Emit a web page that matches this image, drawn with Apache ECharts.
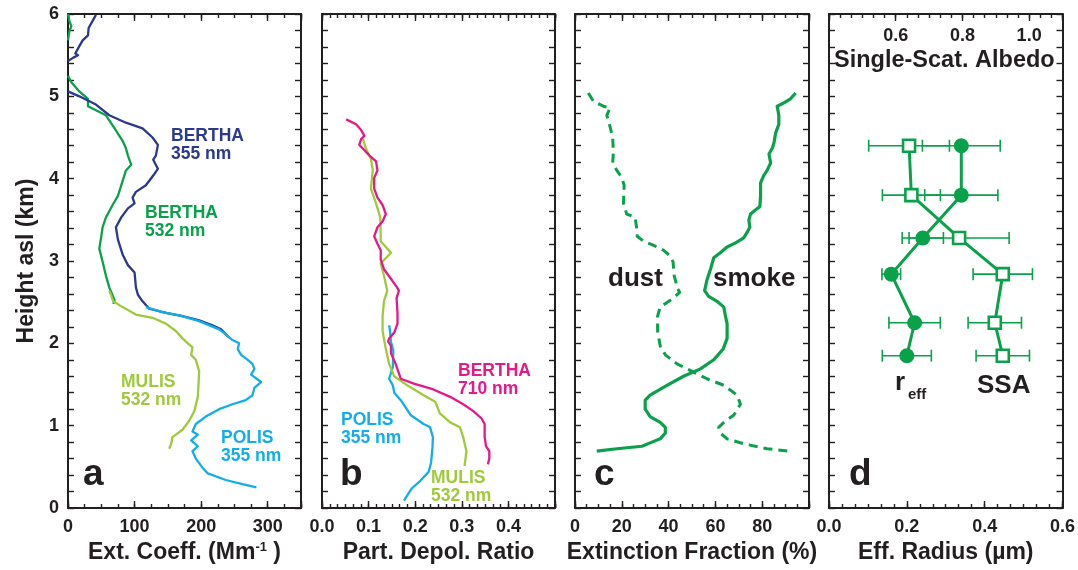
<!DOCTYPE html>
<html><head><meta charset="utf-8">
<script src="https://cdn.jsdelivr.net/npm/echarts@6/dist/echarts.min.js"></script>
<style>html,body{margin:0;padding:0;background:#fff}#c{width:1078px;height:570px}</style>
</head><body><div id="c"></div>
<script>
// ---------------- data ----------------
// panel a: extinction coefficient (Mm-1) vs height (km)
const berthaExt355 = [[42,5.99],[31,5.83],[30,5.74],[22,5.68],[17,5.61],[11,5.52],[15,5.50],[8,5.47],[0,5.43],null,
  [0,5.06],[17,5.0],[42,4.9],[62,4.77],[87,4.68],[112,4.61],[127,4.5],[135,4.41],[132,4.28],[128,4.23],[135,4.12],[130,4.06],
  [117,3.92],[102,3.84],[97,3.77],[100,3.70],[90,3.64],[80,3.53],[72,3.41],[75,3.26],[82,3.08],[90,2.95],[100,2.86],
  [102,2.68],[105,2.59],[112,2.51],[122,2.42],[147,2.37],[172,2.33],[197,2.28],[217,2.22],[230,2.17],[242,2.07]];
const berthaExt532 = [[0,6.0],[2,5.92],[5,5.85],[2,5.79],[0,5.68],null,
  [0,5.25],[5,5.17],[17,5.06],[30,4.97],[30,4.88],[42,4.83],[57,4.77],[70,4.61],[82,4.46],[87,4.37],[90,4.28],[95,4.17],
  [87,4.10],[82,3.97],[75,3.79],[67,3.68],[57,3.53],[52,3.41],[50,3.30],[47,3.15],[52,2.99],[57,2.82],[62,2.68],[65,2.62],[70,2.52],[68,2.48]];
const mulisExt532 = [[62,2.64],[65,2.58],[68,2.51],[82,2.44],[102,2.35],[127,2.31],[147,2.24],[162,2.15],[172,2.06],[180,2.0],
  [187,1.95],[185,1.86],[192,1.80],[197,1.66],[196,1.49],[195,1.35],[190,1.18],[182,1.06],[172,0.95],[157,0.86],[155,0.78],[152,0.72]];
const polisExt355 = [[117,2.44],[142,2.38],[167,2.34],[197,2.27],[227,2.17],[237,2.11],[247,2.04],[257,2.0],[255,1.93],[260,1.86],
  [270,1.80],[277,1.75],[280,1.69],[275,1.62],[290,1.53],[280,1.46],[277,1.37],[267,1.31],[247,1.26],[227,1.20],[207,1.11],
  [192,1.02],[187,0.93],[195,0.89],[185,0.82],[195,0.75],[187,0.69],[192,0.60],[202,0.49],[210,0.42],[237,0.34],[262,0.29],[283,0.25]];
// panel b: particle depolarization ratio vs height
const berthaDep710 = [[0.052,4.72],[0.073,4.66],[0.084,4.59],[0.091,4.52],[0.084,4.48],[0.080,4.41],[0.087,4.37],[0.102,4.28],
  [0.116,4.21],[0.119,4.10],[0.112,4.01],[0.112,3.88],[0.119,3.77],[0.130,3.68],[0.137,3.57],[0.130,3.48],[0.119,3.41],
  [0.112,3.30],[0.119,3.21],[0.126,3.13],[0.126,3.02],[0.133,2.90],[0.147,2.79],[0.161,2.68],[0.165,2.64],[0.160,2.55],
  [0.162,2.37],[0.162,2.24],[0.155,2.13],[0.144,2.06],[0.142,2.02],[0.148,1.97],[0.148,1.88],[0.158,1.75],[0.169,1.57],
  [0.197,1.51],[0.239,1.44],[0.275,1.35],[0.303,1.26],[0.324,1.18],[0.342,1.09],[0.349,1.02],[0.349,0.86],[0.352,0.75],
  [0.359,0.69],[0.359,0.60],[0.356,0.53]];
const mulisDep532 = [[0.088,4.48],[0.094,4.37],[0.105,4.24],[0.109,4.10],[0.105,3.88],[0.116,3.70],[0.125,3.53],[0.126,3.35],
  [0.126,3.24],[0.148,3.10],[0.126,2.97],[0.133,2.82],[0.140,2.64],[0.133,2.51],[0.130,2.33],[0.130,2.15],[0.137,1.93],
  [0.144,1.75],[0.155,1.60],[0.183,1.49],[0.218,1.37],[0.243,1.29],[0.253,1.15],[0.275,1.04],[0.296,0.98],[0.303,0.86],
  [0.310,0.69],[0.306,0.51]];
const polisDep355 = [[0.144,2.22],[0.146,2.15],[0.148,2.02],[0.153,1.91],[0.152,1.71],[0.144,1.57],[0.152,1.49],[0.155,1.40],
  [0.169,1.31],[0.190,1.13],[0.218,1.02],[0.232,0.98],[0.238,0.86],[0.237,0.73],[0.234,0.55],[0.229,0.44],[0.211,0.33],
  [0.193,0.24],[0.186,0.18],[0.176,0.09]];
// panel c: extinction fraction (%) vs height
const smokeFraction = [[94.3,5.04],[92.1,4.97],[89.3,4.92],[86.4,4.88],[87.1,4.77],[87.1,4.66],[85.7,4.55],[85,4.43],[84.3,4.37],
  [82.9,4.30],[83.6,4.19],[82.1,4.10],[80.7,4.04],[79.3,3.95],[79.3,3.79],[79,3.66],[77.1,3.62],[75,3.57],[74.3,3.50],[74.7,3.41],
  [73.6,3.35],[72.1,3.28],[68.6,3.22],[65,3.17],[62.1,3.10],[59.3,3.04],[57.9,2.90],[56.4,2.77],[55.4,2.64],[57.1,2.57],
  [60.7,2.51],[63.6,2.44],[64.3,2.33],[65,2.24],[65,2.06],[63.3,1.93],[59.3,1.80],[53.6,1.69],[46.4,1.60],[39.3,1.49],
  [32.1,1.37],[30,1.31],[30,1.20],[32.1,1.11],[36.4,1.04],[38.6,0.98],[38.6,0.91],[36.4,0.84],[32.9,0.80],[28.6,0.75],
  [17.9,0.72],[9.3,0.69]];
const dustFraction = [[5.7,5.04],[7.9,4.94],[12.1,4.88],[15,4.86],[13.6,4.77],[15,4.63],[16.1,4.50],[16.4,4.32],[16.1,4.19],
  [17.9,4.10],[20,4.01],[21,3.92],[20.7,3.70],[22.1,3.57],[25.7,3.53],[26.4,3.39],[26.6,3.30],[29.3,3.24],[33.6,3.19],
  [37.9,3.13],[40.7,3.06],[41.9,2.99],[42.4,2.82],[43.9,2.66],[44.7,2.62],[42.1,2.55],[36.4,2.44],[35.3,2.33],[35.3,2.15],
  [36.4,1.97],[38.6,1.86],[43.6,1.75],[50,1.66],[56.4,1.57],[63.6,1.49],[69.3,1.37],[70.7,1.26],[67.9,1.13],[63.6,1.04],
  [61.4,0.98],[62.1,0.91],[65,0.84],[72.1,0.78],[82.1,0.72],[91.4,0.69]];
// panel d: effective radius (um) and single-scattering albedo vs height
const retrievalHeights = [4.40, 3.80, 3.28, 2.84, 2.25, 1.85];
const effRadius    = [0.340, 0.340, 0.241, 0.160, 0.220, 0.200];
const effRadiusErr = [0.100, 0.094, 0.053, 0.024, 0.066, 0.063];
const albedo       = [0.640, 0.647, 0.790, 0.921, 0.897, 0.921];
const albedoErr    = [0.121, 0.087, 0.150, 0.089, 0.080, 0.080];
// tick labels
const heightTickLabels = [0, 1, 2, 3, 4, 5, 6];
const extTickLabels = [0, 100, 200, 300];
const depolTickLabels = [0.0, 0.1, 0.2, 0.3, 0.4];
const fractionTickLabels = [0, 20, 40, 60, 80];
const radiusTickLabels = [0.0, 0.2, 0.4, 0.6];
const albedoTickLabels = [0.6, 0.8, 1.0];

// ---------------- styling ----------------
const FONT = "'Liberation Sans', Arial, Helvetica, sans-serif";
const INK = '#231f20';
const NAVY = '#2b3990', GREEN = '#0aa14b', LIME = '#9fca3b', SKY = '#12aeea', MAGENTA = '#e8178a';
const gridBoxes = [{left: 68, width: 233}, {left: 322, width: 233}, {left: 575, width: 234}, {left: 829, width: 234}];
const TOP = 14, HEIGHT = 494;

const near = (v, list) => list.some(t => Math.abs(v - t) < 1e-6);
const tickFont = {fontFamily: FONT, fontWeight: 'bold', fontSize: 18, color: INK};
const titleFont = {fontFamily: FONT, fontWeight: 'bold', fontSize: 23, color: INK};

const xAxes = [], yAxes = [];
function addX(grid, position, min, max, major, minor, label, nameOpt) {
  const base = {type: 'value', gridIndex: grid, position, min, max, splitLine: {show: false}, silent: true};
  xAxes.push(Object.assign({}, base, {
    interval: minor, axisLine: {show: false, onZero: false},
    axisTick: {show: true, inside: true, length: 4, lineStyle: {color: INK, width: 1.4}},
    axisLabel: {show: false}
  }));
  const idx = xAxes.length;
  xAxes.push(Object.assign({}, base, {
    interval: major, axisLine: {show: true, onZero: false, lineStyle: {color: INK, width: 2}},
    axisTick: {show: true, inside: true, length: 7, lineStyle: {color: INK, width: 1.4}},
    axisLabel: label || {show: false}
  }, nameOpt || {}));
  return idx;
}
function addY(grid, position, label, nameOpt) {
  yAxes.push(Object.assign({
    type: 'value', gridIndex: grid, position, min: 0, max: 6, interval: 0.2, silent: true,
    splitLine: {show: false},
    axisLine: {show: true, onZero: false, lineStyle: {color: INK, width: 2}},
    axisTick: {show: true, inside: true, length: 6, lineStyle: {color: INK, width: 1.4}},
    axisLabel: label || {show: false}
  }, nameOpt || {}));
  return yAxes.length - 1;
}
function bottomLabel(list, fmt) {
  return Object.assign({show: true, margin: 10, formatter: v => near(v, list) ? fmt(v) : ''}, tickFont);
}
function bottomName(name, rich) {
  return {name, nameLocation: 'middle', nameGap: 33,
    nameTextStyle: Object.assign({}, titleFont, rich ? {rich} : {})};
}

const grids = gridBoxes.map(g => ({left: g.left, width: g.width, top: TOP, height: HEIGHT, containLabel: false}));

// panel a
const xa = addX(0, 'bottom', 0, 350, 100, 25, bottomLabel(extTickLabels, v => String(Math.round(v))),
  bottomName('{n|Ext. Coeff. (Mm}{s|-1}{n| )}', {
    n: {fontFamily: FONT, fontWeight: 'bold', fontSize: 23, color: INK},
    s: {fontFamily: FONT, fontWeight: 'bold', fontSize: 13, color: INK, verticalAlign: 'top', padding: [0, 0, 10, 0]}
  }));
addX(0, 'top', 0, 350, 100, 25);
const ya = addY(0, 'left', Object.assign({show: true, margin: 9,
  formatter: v => near(v, heightTickLabels) ? String(Math.round(v)) : ''}, tickFont),
  {name: 'Height asl (km)', nameLocation: 'middle', nameGap: 30, nameTextStyle: titleFont});
addY(0, 'right');
// panel b
const xb = addX(1, 'bottom', 0, 0.5, 0.1, 0.1 / 6, bottomLabel(depolTickLabels, v => v.toFixed(1)), bottomName('Part. Depol. Ratio'));
addX(1, 'top', 0, 0.5, 0.1, 0.1 / 6);
const yb = addY(1, 'left');
addY(1, 'right');
// panel c
const xc = addX(2, 'bottom', 0, 100, 20, 5, bottomLabel(fractionTickLabels, v => String(Math.round(v))), bottomName('Extinction Fraction (%)'));
addX(2, 'top', 0, 100, 20, 5);
const yc = addY(2, 'left');
addY(2, 'right');
// panel d
const xd = addX(3, 'bottom', 0, 0.6, 0.2, 0.2 / 6, bottomLabel(radiusTickLabels, v => v.toFixed(1)), bottomName('Eff. Radius (µm)'));
const xdTop = addX(3, 'top', 0.4, 1.1, 0.2, 0.1 / 3,
  Object.assign({show: true, inside: true, margin: 13, formatter: v => near(v, albedoTickLabels) ? v.toFixed(1) : ''}, tickFont));
const yd = addY(3, 'left');
addY(3, 'right');

const toData = arr => arr.map(p => p ? p : ['-', '-']);
function line(data, xi, yi, color, width, dashed) {
  return {type: 'line', xAxisIndex: xi, yAxisIndex: yi, data: toData(data), showSymbol: false, symbol: 'none',
    connectNulls: false, silent: true, z: 3,
    lineStyle: {color, width, type: dashed ? [9, 6] : 'solid', cap: 'butt', join: 'round'}};
}
function errorBars(centers, errs, xi, yi) {
  return {
    type: 'custom', xAxisIndex: xi, yAxisIndex: yi, silent: true, z: 2,
    data: retrievalHeights.map((h, i) => [centers[i], h, centers[i] - errs[i], centers[i] + errs[i]]),
    encode: {x: [0, 2, 3], y: 1},
    renderItem: (params, api) => {
      const h = api.value(1);
      const lo = api.coord([api.value(2), h]);
      const hi = api.coord([api.value(3), h]);
      const st = {stroke: GREEN, lineWidth: 1.6};
      const cap = 6;
      return {type: 'group', children: [
        {type: 'line', shape: {x1: lo[0], y1: lo[1], x2: hi[0], y2: hi[1]}, style: st},
        {type: 'line', shape: {x1: lo[0], y1: lo[1] - cap, x2: lo[0], y2: lo[1] + cap}, style: st},
        {type: 'line', shape: {x1: hi[0], y1: hi[1] - cap, x2: hi[0], y2: hi[1] + cap}, style: st}
      ]};
    }
  };
}

const series = [
  line(berthaExt532, xa, ya, GREEN, 2.3),
  line(berthaExt355, xa, ya, NAVY, 2.3),
  line(polisExt355, xa, ya, SKY, 2.3),
  line(mulisExt532, xa, ya, LIME, 2.3),
  line(polisDep355, xb, yb, SKY, 2.3),
  line(mulisDep532, xb, yb, LIME, 2.3),
  line(berthaDep710, xb, yb, MAGENTA, 2.3),
  line(dustFraction, xc, yc, GREEN, 3, true),
  line(smokeFraction, xc, yc, GREEN, 3.2),
  errorBars(effRadius, effRadiusErr, xd, yd),
  errorBars(albedo, albedoErr, xdTop, yd),
  {type: 'line', xAxisIndex: xd, yAxisIndex: yd, silent: true, z: 4,
    data: retrievalHeights.map((h, i) => [effRadius[i], h]),
    symbol: 'circle', symbolSize: 15, showSymbol: true,
    lineStyle: {color: GREEN, width: 3}, itemStyle: {color: GREEN}},
  {type: 'line', xAxisIndex: xdTop, yAxisIndex: yd, silent: true, z: 4,
    data: retrievalHeights.map((h, i) => [albedo[i], h]),
    symbol: 'rect', symbolSize: 12, showSymbol: true,
    lineStyle: {color: GREEN, width: 3}, itemStyle: {color: '#ffffff', borderColor: GREEN, borderWidth: 2.6}}
];

function txt(text, x, y, size, color, extra) {
  return {type: 'text', left: x, top: y, z: 10, silent: true,
    style: Object.assign({text, fontFamily: FONT, fontWeight: 'bold', fontSize: size, fill: color}, extra || {})};
}
const graphic = [
  txt('BERTHA', 171, 127, 17.5, NAVY), txt('355 nm', 171, 145, 17.5, NAVY),
  txt('BERTHA', 145, 204, 17.5, GREEN), txt('532 nm', 145, 222, 17.5, GREEN),
  txt('MULIS', 121, 373, 17.5, LIME), txt('532 nm', 121, 391, 17.5, LIME),
  txt('POLIS', 221, 429, 17.5, SKY), txt('355 nm', 221, 447, 17.5, SKY),
  txt('BERTHA', 458, 362, 17.5, MAGENTA), txt('710 nm', 458, 380, 17.5, MAGENTA),
  txt('POLIS', 341, 411, 17.5, SKY), txt('355 nm', 341, 429, 17.5, SKY),
  txt('MULIS', 431, 469, 17.5, LIME), txt('532 nm', 431, 487, 17.5, LIME),
  txt('dust', 608, 266, 26, INK), txt('smoke', 713, 266, 26, INK),
  txt('r', 895, 370, 26, INK), txt('eff', 908, 387, 15, INK),
  txt('SSA', 977, 373, 26, INK),
  txt('Single-Scat. Albedo', 834, 49, 23.5, INK),
  txt('a', 83, 456, 37, INK), txt('b', 340, 456, 37, INK),
  txt('c', 594, 456, 37, INK), txt('d', 849, 456, 37, INK)
];

const chart = echarts.init(document.getElementById('c'), null, {renderer: 'canvas'});
chart.setOption({
  animation: false,
  backgroundColor: '#ffffff',
  grid: grids, xAxis: xAxes, yAxis: yAxes, series, graphic
});
</script>
</body></html>
